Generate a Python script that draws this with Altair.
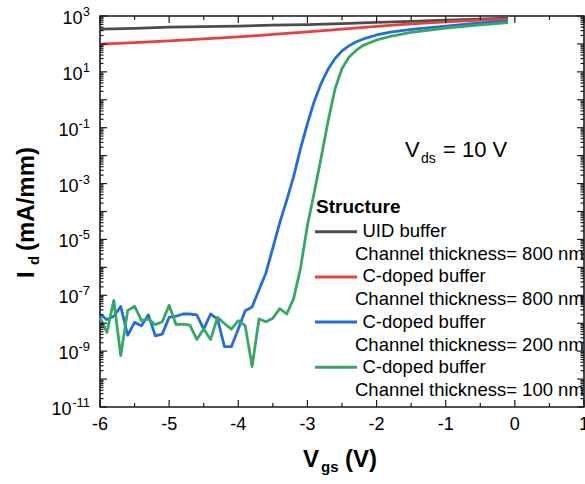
import altair as alt
import pandas as pd

# ---------------- data (log10 of Id in mA/mm) ----------------
x_uid = [-6.0, -5.5, -5.0, -4.5, -4.0, -3.5, -3.0, -2.5, -2.0, -1.5, -1.0, -0.5, -0.1]
uid_log = [2.53, 2.56, 2.60, 2.62, 2.64, 2.67, 2.69, 2.73, 2.77, 2.81, 2.85, 2.89, 2.92]

x_c800 = [-6.0, -5.5, -5.0, -4.5, -4.0, -3.5, -3.0, -2.5, -2.0, -1.5, -1.0, -0.5, -0.1]
c800_log = [1.99, 2.05, 2.11, 2.18, 2.25, 2.34, 2.43, 2.53, 2.63, 2.72, 2.79, 2.85, 2.88]

x_c200 = [-6.0, -5.9, -5.8, -5.7, -5.6, -5.5, -5.4, -5.3, -5.2, -5.1, -5.0, -4.9, -4.8,
          -4.7, -4.6, -4.5, -4.4, -4.3, -4.2, -4.1, -4.0, -3.9, -3.8, -3.7, -3.6, -3.5,
          -3.4, -3.3, -3.2, -3.1, -3.0, -2.9, -2.8, -2.7, -2.6, -2.5, -2.4, -2.3, -2.2,
          -2.0, -1.8, -1.5, -1.0, -0.5, -0.1]
c200_log = [-7.67, -7.87, -7.75, -7.40, -8.43, -7.97, -8.09, -7.70, -8.45, -8.39, -7.79,
            -7.75, -7.67, -7.67, -7.70, -8.21, -7.67, -7.85, -8.84, -8.84, -8.21, -7.55,
            -7.42, -6.80, -6.20, -5.30, -4.40, -3.60, -2.75, -1.75, -0.85, -0.05, 0.60,
            1.10, 1.48, 1.75, 1.93, 2.07, 2.17, 2.32, 2.42, 2.52, 2.64, 2.75, 2.82]

x_c100 = [-6.0, -5.9, -5.8, -5.7, -5.6, -5.5, -5.4, -5.3, -5.2, -5.1, -5.0, -4.9, -4.8,
          -4.7, -4.6, -4.5, -4.4, -4.3, -4.2, -4.1, -4.0, -3.9, -3.8, -3.7, -3.6, -3.5,
          -3.4, -3.3, -3.2, -3.1, -3.0, -2.9, -2.8, -2.7, -2.6, -2.5, -2.4, -2.3, -2.2,
          -2.0, -1.8, -1.5, -1.0, -0.5, -0.1]
c100_log = [-7.79, -8.33, -7.18, -9.16, -7.55, -7.39, -7.91, -7.85, -8.05, -7.95, -7.36,
            -8.05, -8.03, -8.07, -8.58, -8.21, -8.58, -7.79, -8.01, -8.21, -7.91, -8.09,
            -9.55, -7.85, -7.95, -7.82, -7.48, -7.67, -7.12, -6.03, -4.50, -3.30, -2.05,
            -0.75, 0.40, 1.12, 1.52, 1.76, 1.94, 2.14, 2.27, 2.41, 2.57, 2.68, 2.76]

series_keys = ["uid", "c800", "c200", "c100"]
series_colors = ["#4d4d4d", "#ef3d3d", "#1f6fe0", "#35a866"]
legend_line1 = ["UID buffer", "C-doped buffer", "C-doped buffer", "C-doped buffer"]
legend_line2 = ["Channel thickness= 800 nm", "Channel thickness= 800 nm",
                "Channel thickness= 200 nm", "Channel thickness= 100 nm"]

y_label_exps = ["3", "1", "-1", "-3", "-5", "-7", "-9", "-11"]
x_tick_labels = ["-6", "-5", "-4", "-3", "-2", "-1", "0", "1"]

FONT = "Liberation Sans"
W, H = 484, 391

# ---------------- tables ----------------
rows = []
for key, xs_, ls in [("uid", x_uid, uid_log), ("c800", x_c800, c800_log),
                     ("c200", x_c200, c200_log), ("c100", x_c100, c100_log)]:
    for i, (xv, lv) in enumerate(zip(xs_, ls)):
        rows.append({"series": key, "order": i, "vgs": xv, "id": 10.0 ** lv})
df = pd.DataFrame(rows)

xs = alt.Scale(domain=[-6, 1], nice=False, zero=False)
ys = alt.Scale(type="log", domain=[1e-11, 1e3], nice=False)
cs = alt.Scale(domain=series_keys, range=series_colors)

lines = alt.Chart(df).mark_line(strokeWidth=2.8, strokeJoin="round").encode(
    x=alt.X("vgs:Q", scale=xs, axis=None),
    y=alt.Y("id:Q", scale=ys, axis=None),
    color=alt.Color("series:N", scale=cs, legend=None),
    order="order:Q",
    detail="series:N",
)

# ticks
y_major = pd.DataFrame({"v": [10.0 ** e for e in range(-11, 4)]})
y_minor = pd.DataFrame({"v": [m * 10.0 ** e for e in range(-11, 3) for m in range(2, 10)]})
x_major = pd.DataFrame({"v": [float(v) for v in range(-6, 2)]})
x_minor = pd.DataFrame({"v": [v + 0.5 for v in range(-6, 1)]})

TC = "#1a1a1a"
def yrule(d, x0, x1):
    return alt.Chart(d).mark_rule(color=TC, strokeWidth=1.2).encode(
        y=alt.Y("v:Q", scale=ys, axis=None), x=alt.value(x0), x2=alt.value(x1))

def xrule(d, y0, y1):
    return alt.Chart(d).mark_rule(color=TC, strokeWidth=1.2).encode(
        x=alt.X("v:Q", scale=xs, axis=None), y=alt.value(y0), y2=alt.value(y1))

ticks = [
    yrule(y_major, 0, 7), yrule(y_minor, 0, 3.5),
    yrule(y_major, W - 7, W), yrule(y_minor, W - 3.5, W),
    xrule(x_major, H, H - 7), xrule(x_minor, H, H - 4),
    xrule(x_major, 0, 7), xrule(x_minor, 0, 4),
]

# y tick labels (10 with superscript exponent)
ylab = pd.DataFrame({
    "v": [10.0 ** int(e) for e in y_label_exps],
    "exp": y_label_exps,
    "n": [len(e) for e in y_label_exps],
})
ylab["base"] = "10"
exp_text = alt.Chart(ylab).mark_text(
    align="right", baseline="middle", dy=-4, fontSize=13, font=FONT, color="black"
).encode(y=alt.Y("v:Q", scale=ys, axis=None), x=alt.value(-10), text="exp:N")
base_layers = []
for n, xpos in [(1, -17.5), (2, -21.5), (3, -28.5)]:
    base_layers.append(
        alt.Chart(ylab).transform_filter(alt.datum.n == n).mark_text(
            align="right", baseline="middle", dy=3, fontSize=18, font=FONT, color="black"
        ).encode(y=alt.Y("v:Q", scale=ys, axis=None), x=alt.value(xpos), text="base:N")
    )

xlab = pd.DataFrame({"v": [float(t) for t in x_tick_labels], "t": x_tick_labels})
x_text = alt.Chart(xlab).mark_text(
    align="center", baseline="middle", fontSize=18, font=FONT, color="black"
).encode(x=alt.X("v:Q", scale=xs, axis=None), y=alt.value(409), text="t:N")

one = pd.DataFrame({"a": [0]})
def txt(s, x, y, size, bold=False, angle=0, align="left"):
    kw = dict(align=align, baseline="alphabetic", fontSize=size, font=FONT, color="black",
              fontWeight="bold" if bold else "normal")
    if angle:
        kw["angle"] = angle
    return alt.Chart(one).mark_text(**kw).encode(
        x=alt.value(x), y=alt.value(y), text=alt.value(s))

titles = [
    # x axis title V_gs (V)
    txt("V", 203, 451, 24, bold=True),
    txt("gs", 221, 456, 15, bold=True),
    txt("(V)", 245, 451, 24, bold=True),
    # y axis title I_d (mA/mm)
    txt("I", -66, 262, 24, bold=True, angle=270),
    txt("d", -61, 249, 15, bold=True, angle=270),
    txt("(mA/mm)", -66, 235, 24, bold=True, angle=270),
    # annotation V_ds = 10 V
    txt("V", 305, 141, 22),
    txt("ds", 321, 147, 14),
    txt("= 10 V", 343, 141, 22),
    # legend title
    txt("Structure", 216, 197, 19, bold=True),
]

main = alt.layer(lines, *ticks, exp_text, *base_layers, x_text, *titles)

# legend (manual, own y scale)
leg = pd.DataFrame({"idx": [0, 1, 2, 3], "series": series_keys,
                    "l1": legend_line1, "l2": legend_line2})
ly = alt.Scale(domain=[0, 3], range=[215.7, 351.3])
leg_rules = alt.Chart(leg).mark_rule(strokeWidth=3).encode(
    y=alt.Y("idx:Q", scale=ly, axis=None), x=alt.value(215), x2=alt.value(257),
    color=alt.Color("series:N", scale=cs, legend=None))
leg_t1 = alt.Chart(leg).mark_text(
    align="left", baseline="alphabetic", dy=5.5, fontSize=18.5, font=FONT, color="black"
).encode(y=alt.Y("idx:Q", scale=ly, axis=None), x=alt.value(262.5), text="l1:N")
leg_t2 = alt.Chart(leg).mark_text(
    align="left", baseline="alphabetic", dy=28.5, fontSize=18.5, font=FONT, color="black"
).encode(y=alt.Y("idx:Q", scale=ly, axis=None), x=alt.value(255), text="l2:N")
legend = alt.layer(leg_rules, leg_t1, leg_t2)

chart = alt.layer(main, legend).resolve_scale(y="independent").properties(
    width=W, height=H,
    autosize=alt.AutoSizeParams(type="none"),
    padding={"left": 100, "top": 16, "right": 1, "bottom": 77},
    background="white",
).configure_view(stroke="#1a1a1a", strokeWidth=1.6)

chart.save("out.html", embed_options={"renderer": "svg", "actions": False})
